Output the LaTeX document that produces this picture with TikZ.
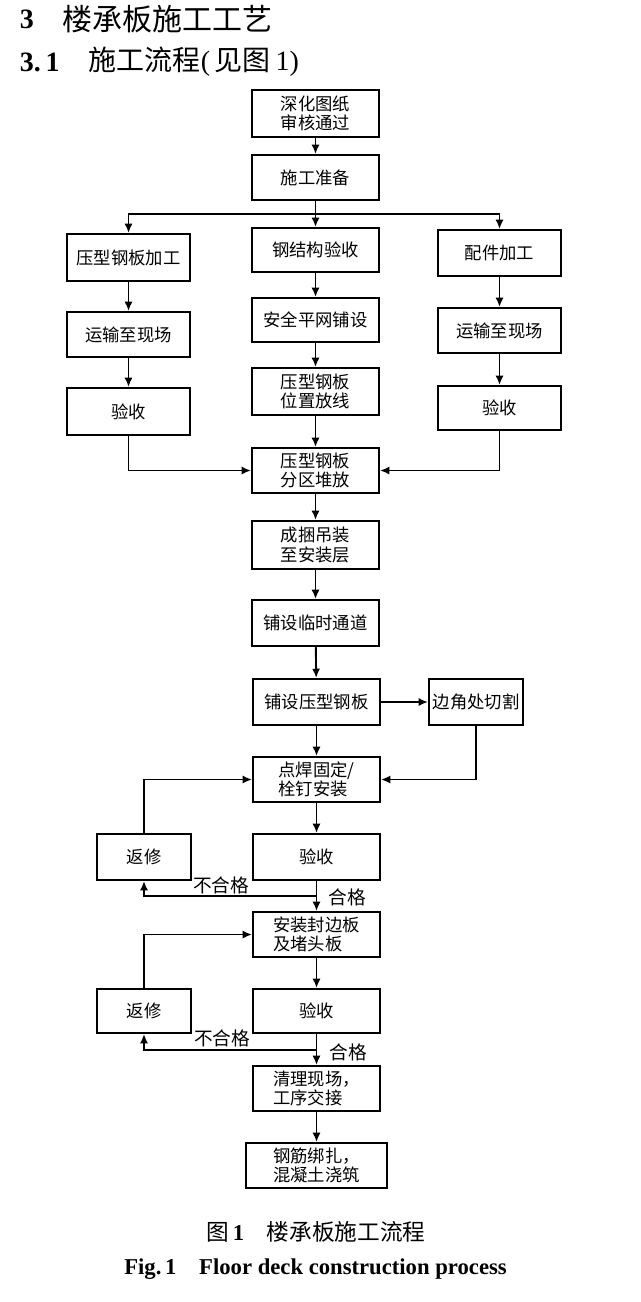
\documentclass[tikz,border=0pt]{standalone}
\usepackage{fontspec}
\setmainfont{Liberation Serif}
\newfontfamily\cjk{Noto Sans CJK SC}
\usetikzlibrary{arrows.meta}

\begin{document}
\begin{tikzpicture}[x=0.75pt,y=0.75pt,yscale=-1,xscale=1,line width=1.4pt,
    box/.style={draw, inner sep=0pt, align=center, font=\cjk\fontsize{13}{14.5}\selectfont,
        minimum width=95.25pt, minimum height=33.75pt},
    sidebox/.style={box, minimum width=92.25pt},
    smallbox/.style={box, minimum width=70.5pt, minimum height=34.5pt},
    arr/.style={-{Latex[length=7pt,width=6pt]}},
    lbl/.style={font=\cjk\fontsize{14}{16}\selectfont, inner sep=0pt}]
    \useasboundingbox (0,0) rectangle (640,1302);
    % heading
    \node [anchor=west, inner sep=0pt, font=\bfseries\fontsize{21}{24}\selectfont] (hnum) at (19,19) {3};
    \node [anchor=west, inner sep=0pt, font=\cjk\fontsize{22.5}{24}\selectfont] (htitle) at (62,19) {楼承板施工工艺};
    \node [anchor=west, inner sep=0pt, font=\bfseries\fontsize{21}{24}\selectfont] (snum) at (19,62) {3.\,1};
    \node [anchor=west, inner sep=0pt, font=\fontsize{21}{24}\selectfont] (stitle) at (88,62) {{\cjk 施工流程}(\,{\cjk 见图}\,1)};
    % main column
    \node [box, minimum height=35.25pt] (tuzhi) at (315.5,113.5) {深化图纸\\审核通过};
    \node [box] (zhunbei) at (315.5,177.5) {施工准备};
    \coordinate (fenzhi) at (315.5,214);
    \node [sidebox, minimum height=35.25pt] (yaxing) at (128.5,257.5) {压型钢板加工};
    \node [box, minimum height=33pt] (gangjie) at (315.5,250) {钢结构验收};
    \node [sidebox, minimum height=34.5pt] (peijian) at (499.5,253) {配件加工};
    \node [sidebox] (yunshuL) at (128.5,334.5) {运输至现场};
    \node [box, minimum height=33pt] (anquan) at (315.5,320) {安全平网铺设};
    \node [sidebox] (yunshuR) at (499.5,330.5) {运输至现场};
    \node [sidebox, minimum height=35.25pt] (yanshouL) at (128.5,411.5) {验收};
    \node [box, minimum height=35.25pt] (fangxian) at (315.5,391.5) {压型钢板\\位置放线};
    \node [sidebox, minimum height=33pt] (yanshouR) at (499.5,408) {验收};
    \node [box] (duifang) at (315.5,470.5) {压型钢板\\分区堆放};
    \node [box, minimum height=36pt] (diaozhuang) at (315.5,545) {成捆吊装\\至安装层};
    \node [box, minimum height=34.5pt] (tongdao) at (315.5,623) {铺设临时通道};
    \node [box, minimum height=34.5pt] (puban) at (316.5,702) {铺设压型钢板};
    \node [smallbox] (qiege) at (476,702) {边角处切割};
    \node [box, align=left] (hanjie) at (316.5,779.5) {点焊固定/\\栓钉安装};
    \node [smallbox] (fanxiu1) at (144,857) {返修};
    \node [box, minimum height=34.5pt] (yanshou1) at (316.5,857) {验收};
    \coordinate (hege1) at (316.5,896);
    \node [box, align=left] (fengbian) at (316.5,934.5) {安装封边板\\及堵头板};
    \node [smallbox, minimum height=33pt] (fanxiu2) at (144,1011) {返修};
    \node [box, minimum height=33pt] (yanshou2) at (316.5,1011) {验收};
    \coordinate (hege2) at (316.5,1050);
    \node [box, align=left] (qingli) at (316.5,1088.5) {清理现场，\\工序交接};
    \node [box, align=left, minimum width=105.75pt] (jiaozhu) at (316.5,1165.5) {钢筋绑扎，\\混凝土浇筑};
    % labels
    \node [lbl] (buhege1) at (221,885) {不合格};
    \node [lbl] (hegeA) at (347,897) {合格};
    \node [lbl] (buhege2) at (222,1038) {不合格};
    \node [lbl] (hegeB) at (348,1052) {合格};
    % connectors
    \draw [arr] (tuzhi) -- (zhunbei);
    \draw (zhunbei) -- (fenzhi);
    \draw [arr] (fenzhi) -| (yaxing);
    \draw [arr] (fenzhi) -- (gangjie);
    \draw [arr] (fenzhi) -| (peijian);
    \draw [arr] (yaxing) -- (yunshuL);
    \draw [arr] (yunshuL) -- (yanshouL);
    \draw [arr] (gangjie) -- (anquan);
    \draw [arr] (anquan) -- (fangxian);
    \draw [arr] (peijian) -- (yunshuR);
    \draw [arr] (yunshuR) -- (yanshouR);
    \draw [arr] (fangxian) -- (duifang);
    \draw [arr] (yanshouL) |- (duifang);
    \draw [arr] (yanshouR) |- (duifang);
    \draw [arr] (duifang) -- (diaozhuang);
    \draw [arr] (diaozhuang) -- (tongdao);
    \draw [arr] (tongdao) -- (puban);
    \draw [arr] (puban) -- (qiege);
    \draw [arr] (puban) -- (hanjie);
    \draw [arr] (qiege) |- (hanjie);
    \draw [arr] (hanjie) -- (yanshou1);
    \draw [arr] (yanshou1) -- (fengbian);
    \draw [arr] (hege1) -| (fanxiu1);
    \draw [arr] (fanxiu1) |- (hanjie);
    \draw [arr] (fengbian) -- (yanshou2);
    \draw [arr] (yanshou2) -- (qingli);
    \draw [arr] (hege2) -| (fanxiu2);
    \draw [arr] (fanxiu2) |- (fengbian);
    \draw [arr] (qingli) -- (jiaozhu);
    % caption
    \node [inner sep=0pt, font=\fontsize{17}{19}\selectfont] (cap) at (316,1232) {{\cjk 图}\,\textbf{1}\quad{\cjk 楼承板施工流程}};
    \node [inner sep=0pt, font=\bfseries\fontsize{17}{19}\selectfont] (capen) at (315.5,1269) {Fig.\,1\quad Floor deck construction process};
\end{tikzpicture}
\end{document}
